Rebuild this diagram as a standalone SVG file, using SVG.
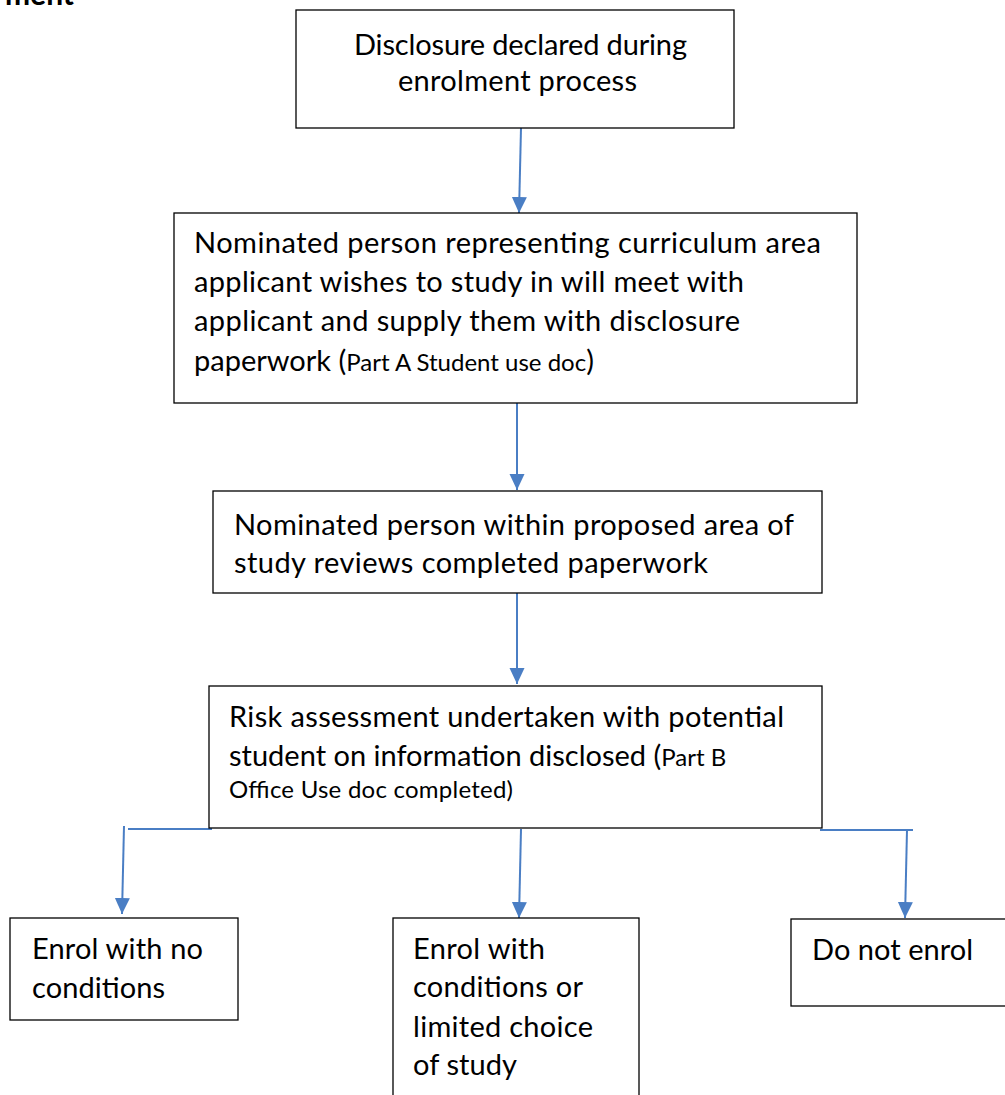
<svg xmlns="http://www.w3.org/2000/svg" width="1005" height="1095" viewBox="0 0 1005 1095">
<style>
  .box { fill: #ffffff; stroke: #000000; stroke-width: 1.3; }
  .t { font-family: Lato, "Liberation Sans", sans-serif; font-size: 29px; fill: #000000; }
  .s { font-size: 24px; }
  .head { font-family: Lato, "Liberation Sans", sans-serif; font-size: 30px; font-weight: bold; fill: #000000; }
  .conn { stroke: #4A7EC4; stroke-width: 2; fill: none; }
  .arr { marker-end: url(#ah); }
</style>
<defs>
  <marker id="ah" markerUnits="userSpaceOnUse" markerWidth="16" markerHeight="16" viewBox="0 0 16 16" refX="16" refY="8" orient="auto">
    <path d="M0,0.5 L16,8 L0,15.5 Z" fill="#4A7EC4"/>
  </marker>
</defs>
<rect width="1005" height="1095" fill="#ffffff"/>
<text class="head" x="74" y="5" text-anchor="end">ment</text>

<g id="connectors">
  <line class="conn arr" x1="521" y1="128" x2="519" y2="213"/>
  <line class="conn arr" x1="517" y1="403" x2="517" y2="490"/>
  <line class="conn arr" x1="517" y1="593" x2="517" y2="684"/>
  <line class="conn" x1="128" y1="829" x2="212" y2="829"/>
  <line class="conn arr" x1="124" y1="826" x2="122" y2="914"/>
  <line class="conn arr" x1="521" y1="829" x2="519" y2="918"/>
  <line class="conn" x1="820" y1="830" x2="913" y2="830"/>
  <line class="conn arr" x1="907" y1="830" x2="905" y2="918"/>
</g>

<g id="node1">
  <rect class="box" x="296" y="10" width="438" height="118"/>
  <text class="t" x="354" y="55" textLength="333">Disclosure declared during</text>
  <text class="t" x="398" y="91" textLength="239">enrolment process</text>
</g>

<g id="node2">
  <rect class="box" x="174" y="213" width="683" height="190"/>
  <text class="t" x="194" y="253" textLength="627">Nominated person representing curriculum area</text>
  <text class="t" x="194" y="292" textLength="550">applicant wishes to study in will meet with</text>
  <text class="t" x="194" y="331" textLength="546">applicant and supply them with disclosure</text>
  <text class="t" x="194" y="371">paperwork (<tspan class="s">Part A Student use doc</tspan>)</text>
</g>

<g id="node3">
  <rect class="box" x="213" y="491" width="609" height="102"/>
  <text class="t" x="234" y="535" textLength="560">Nominated person within proposed area of</text>
  <text class="t" x="234" y="573" textLength="474">study reviews completed paperwork</text>
</g>

<g id="node4">
  <rect class="box" x="209" y="686" width="613" height="142"/>
  <text class="t" x="229" y="727" textLength="555">Risk assessment undertaken with potential</text>
  <text class="t" x="229" y="766">student on information disclosed (<tspan class="s">Part B</tspan></text>
  <text class="t s" x="229" y="798" textLength="284">Office Use doc completed)</text>
</g>

<g id="node5">
  <rect class="box" x="10" y="918" width="228" height="102"/>
  <text class="t" x="32" y="959" textLength="171">Enrol with no</text>
  <text class="t" x="32" y="998" textLength="133">conditions</text>
</g>

<g id="node6">
  <rect class="box" x="393" y="918" width="246" height="190"/>
  <text class="t" x="413" y="959" textLength="132">Enrol with</text>
  <text class="t" x="413" y="997" textLength="170">conditions or</text>
  <text class="t" x="413" y="1037" textLength="180">limited choice</text>
  <text class="t" x="413" y="1075" textLength="104">of study</text>
</g>

<g id="node7">
  <rect class="box" x="791" y="919" width="224" height="87"/>
  <text class="t" x="812" y="960" textLength="161">Do not enrol</text>
</g>
</svg>
